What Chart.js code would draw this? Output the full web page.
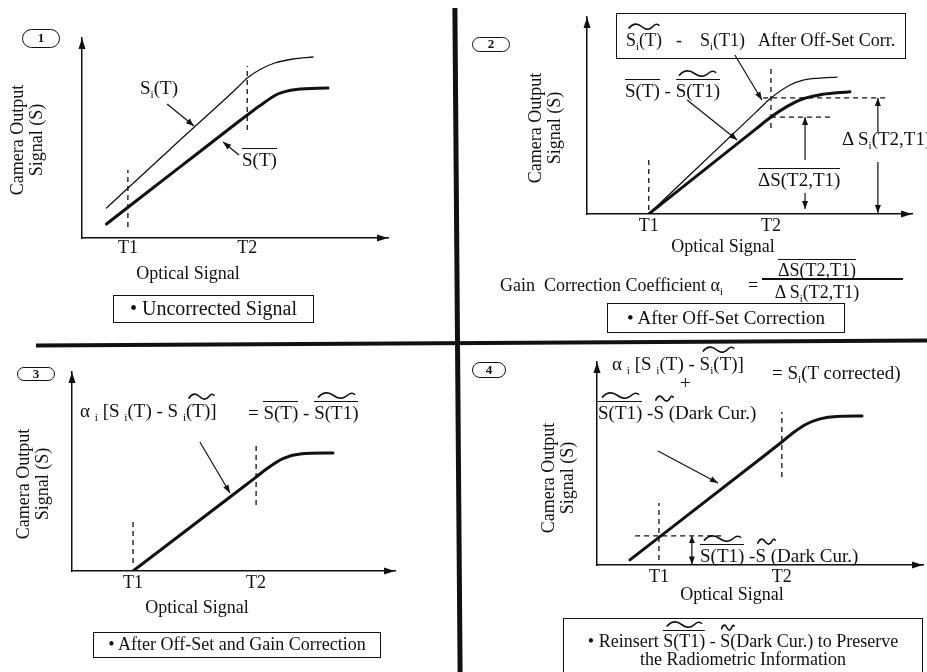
<!DOCTYPE html>
<html>
<head>
<meta charset="utf-8">
<title>Off-set and gain correction</title>
<script src="https://cdn.jsdelivr.net/npm/chart.js@4.4.1/dist/chart.umd.min.js"></script>
<style>
  body { margin: 0; width: 927px; height: 672px; position: relative; overflow: hidden; background: #fff; color: #111; font-family: "Liberation Serif", "Times New Roman", serif; }
  canvas { position: absolute; }
  .t { position: absolute; white-space: nowrap; line-height: 1; font-size: 18px; }
  .a { font-size: 19px; }
  .c { transform: translateX(-50%); }
  .t sub { font-size: 0.6em; vertical-align: -0.35em; line-height: 0; }
  .ov { display: inline-block; border-top: 1.3px solid #111; padding-top: 1px; line-height: 1; }
  .wv { position: relative; display: inline-block; line-height: 1; }
  .wv::before { content: ""; position: absolute; left: 6%; right: 6%; top: -8px; height: 7px;
    background: url("data:image/svg+xml,%3Csvg xmlns='http://www.w3.org/2000/svg' viewBox='0 0 40 10' preserveAspectRatio='none'%3E%3Cpath d='M1 8 C6 0 12 0 17 5 C22 10 27 10 31 5 C34 1 37 1 39 4' fill='none' stroke='%23111' stroke-width='1.6' vector-effect='non-scaling-stroke'/%3E%3C/svg%3E") center / 100% 100% no-repeat; }
  .ov.wv::before { top: -10px; }
  .box { position: absolute; border: 1.5px solid #111; box-sizing: border-box; text-align: center; white-space: nowrap; }
  .pill { position: absolute; border: 1.6px solid #111; border-radius: 10px; box-sizing: border-box; font: bold 13px "Liberation Serif", serif; text-align: center; }
  .vt { position: absolute; width: 130px; height: 38px; line-height: 19px; font-size: 18px; text-align: center; white-space: nowrap; transform: rotate(-90deg); }
  .bar { position: absolute; background: #111; }
</style>
</head>
<body>
<canvas id="panel1" width="452" height="336" style="left:0;top:0"></canvas>
<canvas id="panel2" width="465" height="336" style="left:462px;top:0"></canvas>
<canvas id="panel3" width="455" height="326" style="left:0;top:346px"></canvas>
<canvas id="panel4" width="465" height="328" style="left:462px;top:344px"></canvas>

<!-- separators -->
<div class="bar" style="left:455px;top:8px;width:5px;height:664px;transform:rotate(-0.45deg)"></div>
<div class="bar" style="left:36px;top:341px;width:891px;height:4px;transform:rotate(-0.32deg)"></div>

<!-- panel 1 -->
<div class="pill" style="left:22px;top:29px;width:38px;height:19px;line-height:16px">1</div>
<div class="vt" style="left:-38px;top:121px">Camera Output<br>Signal (S)</div>
<div class="t c" style="left:188px;top:264px">Optical Signal</div>
<div class="t a" style="left:140px;top:78px">S<sub>i</sub>(T)</div>
<div class="t a" style="left:242px;top:148px"><span class="ov">S(T)</span></div>
<div class="box" style="left:113px;top:295px;width:201px;height:28px;font-size:20px;line-height:25px">• Uncorrected Signal</div>

<!-- panel 2 -->
<div class="pill" style="left:472px;top:37px;width:38px;height:15px;line-height:12px">2</div>
<div class="vt" style="left:480px;top:109px">Camera Output<br>Signal (S)</div>
<div class="t c" style="left:723px;top:237px">Optical Signal</div>
<div class="box" style="left:616px;top:13px;width:290px;height:46px"></div>
<div class="t" style="left:626px;top:31px"><span class="wv">S<sub>i</sub>(T)</span></div>
<div class="t" style="left:676px;top:31px">-</div>
<div class="t" style="left:700px;top:31px">S<sub>i</sub>(T1)</div>
<div class="t" style="left:758px;top:31px">After Off-Set Corr.</div>
<div class="t a" style="left:625px;top:79px"><span class="ov">S(T)</span> - <span class="ov wv">S(T1)</span></div>
<div class="t a" style="left:758px;top:168px"><span class="ov">ΔS(T2,T1)</span></div>
<div class="t a" style="left:842px;top:129px">Δ S<sub>i</sub>(T2,T1)</div>
<div class="t" style="left:500px;top:276px">Gain&nbsp; Correction Coefficient α<sub>i</sub></div>
<div class="t" style="left:748px;top:276px">=</div>
<div class="bar" style="left:762px;top:278px;width:141px;height:1.5px"></div>
<div class="t c" style="left:817px;top:259px"><span class="ov">ΔS(T2,T1)</span></div>
<div class="t c" style="left:817px;top:283px">Δ S<sub>i</sub>(T2,T1)</div>
<div class="box" style="left:607px;top:303px;width:238px;height:30px;font-size:19px;line-height:27px">• After Off-Set Correction</div>

<!-- panel 3 -->
<div class="pill" style="left:17px;top:367px;width:38px;height:14px;line-height:11px">3</div>
<div class="vt" style="left:-32px;top:465px">Camera Output<br>Signal (S)</div>
<div class="t c" style="left:197px;top:598px">Optical Signal</div>
<div class="t a" style="left:80px;top:401px">α <sub>i</sub> [S <sub>i</sub>(T) - S <sub>i</sub><span class="wv">(T)]</span></div>
<div class="t a" style="left:248px;top:401px">= <span class="ov">S(T)</span> - <span class="ov wv">S(T1)</span></div>
<div class="box" style="left:93px;top:632px;width:288px;height:26px;font-size:18px;line-height:23px">• After Off-Set and Gain Correction</div>

<!-- panel 4 -->
<div class="pill" style="left:472px;top:362px;width:34px;height:16px;line-height:13px">4</div>
<div class="vt" style="left:493px;top:459px">Camera Output<br>Signal (S)</div>
<div class="t c" style="left:732px;top:585px">Optical Signal</div>
<div class="t a" style="left:612px;top:354px">α <sub>i</sub> [S <sub>i</sub>(T) - <span class="wv">S<sub>i</sub>(T)</span>]</div>
<div class="t a" style="left:680px;top:373px">+</div>
<div class="t a" style="left:598px;top:401px"><span class="ov wv">S(T1)</span> -<span class="wv">S (</span>Dark Cur.)</div>
<div class="t a" style="left:772px;top:363px">= S<sub>i</sub>(T corrected)</div>
<div class="t a" style="left:700px;top:544px"><span class="ov wv">S(T1)</span> -<span class="wv">S (</span>Dark Cur.)</div>
<div class="box" style="left:563px;top:618px;width:360px;height:80px"></div>
<div class="t c" style="left:743px;top:630px">• Reinsert <span class="ov wv">S(T1)</span> - <span class="wv">S(</span>Dark Cur.) to Preserve</div>
<div class="t c" style="left:743px;top:650px">the Radiometric Information</div>

<script>
// tick labels shared by all four panels
const tickLabels = ["T1", "T2"];

// panel 1 - uncorrected signal (x: optical signal, y: output, 0-100 units)
const p1Ticks = [15, 54];
const p1Pixel = [[8, 15], [31, 47.5], [51, 75.5], [54, 80], [58.5, 84.5], [63, 87.5], [69, 89.5], [75.5, 90.5]];
const p1Mean = [[8, 7], [31, 34.3], [51, 58], [54, 61.5], [58, 66], [64, 72], [70, 74.3], [80.4, 75]];
const p1Marks = [[[15, 5.5], [15, 34]], [[54, 54], [54, 86]]];
const p1Arrows = [[[27.8, 67], [36.6, 56]], [[51.3, 41.5], [46.1, 48]]];

// panel 2 - after off-set correction
const p2Ticks = [19, 56.6];
const p2Pixel = [[19, 0], [52, 51.7], [56.6, 58.9], [62.5, 65.5], [66.5, 68], [71.7, 69], [76.9, 69.5]];
const p2Mean = [[19, 0], [52, 43.2], [56.6, 49.2], [61.5, 54.5], [66.5, 58.5], [71.7, 60.5], [76.9, 61.5], [80.9, 62]];
const p2Marks = [[[19, 2], [19, 27.4]], [[56.6, 43.7], [56.6, 74.1]], [[54.2, 58.9], [92.3, 58.9]], [[56.6, 49.2], [74.8, 49.2]]];
const p2Arrows = [
  [[45.5, 80.7], [53.8, 57.9]], [[30.8, 57.9], [46.2, 37.6]],
  [[67.1, 27.4], [67.1, 49.2]], [[67.1, 10.7], [67.1, 2.5]],
  [[89.5, 41.1], [89.5, 58.9]], [[89.5, 26.4], [89.5, 0.5]]
];

// panel 3 - after off-set and gain correction
const p3Ticks = [18.9, 57];
const p3Corrected = [[18.9, 0], [53, 42.2], [57, 47.2], [60.4, 51.5], [65.3, 56.5], [70.6, 58.8], [80.8, 59.3]];
const p3Marks = [[[18.9, 4], [18.9, 25.6]], [[57, 33.2], [57, 64.3]]];
const p3Arrows = [[[39.6, 64.8], [48.9, 39.2]]];

// panel 4 - dark current level reinserted
const p4Ticks = [19, 56.7];
const p4Restored = [[10.1, 2.5], [52, 54.7], [56.7, 60.6], [60.5, 65.5], [64, 69.2], [68.4, 72], [73.6, 73.2], [81.3, 73.4]];
const p4Marks = [[[19, 2.5], [19, 30.5]], [[56.7, 43.3], [56.7, 75.4]], [[11.7, 14.3], [38.7, 14.3]]];
const p4Arrows = [[[18.7, 56.2], [37.1, 40.4]]];
const p4Offset = [[29.1, 14.3], [29.1, 0.3]];

const ink = "#111111";

const pts = (arr) => arr.map(([x, y]) => ({ x, y }));
const curve = (data, width) => ({ data: pts(data), borderColor: ink, borderWidth: width, cubicInterpolationMode: "monotone", borderCapStyle: "round" });
const dashed = (data) => ({ data: pts(data), borderColor: ink, borderWidth: 1.3, borderDash: [5, 4] });
const arrow = (data, kind = "end") => ({ data: pts(data), borderColor: ink, borderWidth: 1.2, arrow: kind });

function drawHead(ctx, from, to, len, half) {
  const a = Math.atan2(to.y - from.y, to.x - from.x);
  const bx = to.x - len * Math.cos(a), by = to.y - len * Math.sin(a);
  ctx.beginPath();
  ctx.moveTo(to.x, to.y);
  ctx.lineTo(bx + half * Math.sin(a), by - half * Math.cos(a));
  ctx.lineTo(bx - half * Math.sin(a), by + half * Math.cos(a));
  ctx.closePath();
  ctx.fill();
}

// arrow tips on the axes and on annotation arrows
const arrowHeads = {
  id: "arrowHeads",
  afterDraw(chart) {
    const { ctx, chartArea: a } = chart;
    ctx.save();
    ctx.fillStyle = ink;
    drawHead(ctx, { x: a.left, y: a.bottom }, { x: a.left, y: a.top }, 11, 3.5);
    drawHead(ctx, { x: a.left, y: a.bottom }, { x: a.right, y: a.bottom }, 11, 3.5);
    chart.data.datasets.forEach((ds, i) => {
      if (!ds.arrow) return;
      const el = chart.getDatasetMeta(i).data;
      const first = el[0], last = el[el.length - 1];
      drawHead(ctx, first, last, 8, 3);
      if (ds.arrow === "both") drawHead(ctx, last, first, 7, 3);
    });
    ctx.restore();
  }
};

function panelChart(id, area, ticks, tickPad, datasets) {
  const canvas = document.getElementById(id);
  return new Chart(canvas, {
    type: "line",
    data: { datasets },
    options: {
      responsive: false,
      animation: false,
      events: [],
      layout: { padding: { left: 0, top: area.top, right: canvas.width - area.right, bottom: 0 } },
      plugins: { legend: { display: false }, tooltip: { enabled: false } },
      elements: { point: { radius: 0 } },
      scales: {
        x: {
          type: "linear",
          min: 0,
          max: 100,
          grid: { display: false, drawTicks: false },
          border: { color: ink, width: 1.5 },
          afterFit: (s) => { s.height = canvas.height - area.bottom; },
          afterBuildTicks: (s) => { s.ticks = ticks.map((value) => ({ value })); },
          ticks: {
            autoSkip: false,
            maxRotation: 0,
            padding: tickPad,
            color: ink,
            font: { family: "Liberation Serif", size: 18, lineHeight: 1 },
            callback: (value, index) => tickLabels[index]
          }
        },
        y: {
          type: "linear",
          min: 0,
          max: 100,
          grid: { display: false, drawTicks: false },
          border: { color: ink, width: 1.5 },
          ticks: { display: false },
          afterFit: (s) => { s.width = area.left; }
        }
      }
    },
    plugins: [arrowHeads]
  });
}

panelChart("panel1", { left: 82, top: 38, right: 388, bottom: 238 }, p1Ticks, 1, [
  curve(p1Pixel, 1.3),
  curve(p1Mean, 3),
  ...p1Marks.map(dashed),
  ...p1Arrows.map((a) => arrow(a))
]);

panelChart("panel2", { left: 125, top: 17, right: 450, bottom: 214 }, p2Ticks, 3, [
  curve(p2Pixel, 1.3),
  curve(p2Mean, 3),
  ...p2Marks.map(dashed),
  ...p2Arrows.map((a) => arrow(a))
]);

panelChart("panel3", { left: 72, top: 26, right: 395, bottom: 225 }, p3Ticks, 3, [
  curve(p3Corrected, 3),
  ...p3Marks.map(dashed),
  ...p3Arrows.map((a) => arrow(a))
]);

panelChart("panel4", { left: 135, top: 18, right: 461, bottom: 221 }, p4Ticks, 3, [
  curve(p4Restored, 3),
  ...p4Marks.map(dashed),
  ...p4Arrows.map((a) => arrow(a)),
  arrow(p4Offset, "both")
]);
</script>
</body>
</html>
